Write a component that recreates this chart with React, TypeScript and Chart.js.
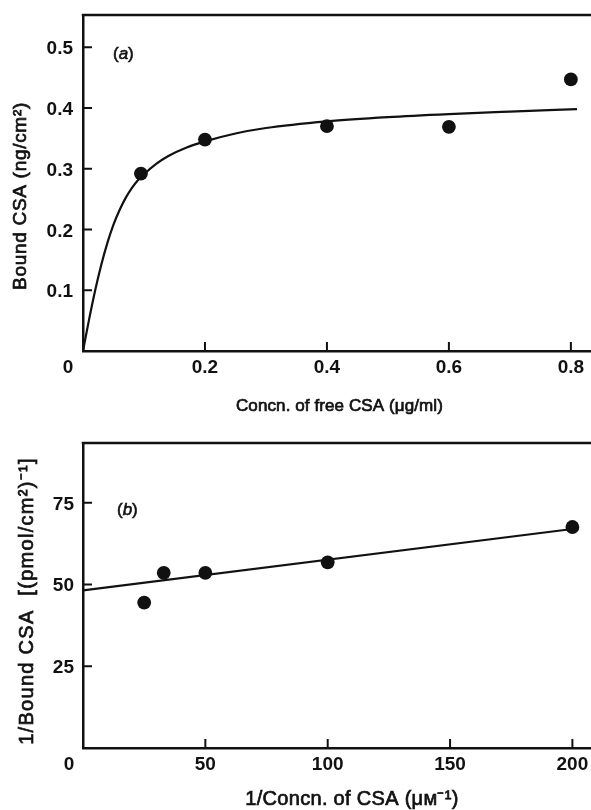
import React, { useEffect, useRef } from "react";
import { Chart, registerables } from "chart.js";

Chart.register(...registerables);

const FONT = '"Liberation Sans", Arial, Helvetica, sans-serif';
const INK = "#111";
const TICK_SIZE = 19;

// ---------- Panel (a): binding isotherm ----------
const freeConc = [0.095, 0.2, 0.4, 0.6, 0.8];
const boundCSA = [0.292, 0.348, 0.37, 0.369, 0.447];
const curveConc = [0, 0.01, 0.02, 0.03, 0.04, 0.05, 0.06, 0.07, 0.08, 0.09, 0.1, 0.12, 0.14, 0.17, 0.2, 0.25, 0.3, 0.4, 0.5, 0.6, 0.7, 0.81];
const curveBound = [0, 0.052, 0.1, 0.142, 0.178, 0.208, 0.232, 0.252, 0.268, 0.281, 0.291, 0.308, 0.321, 0.335, 0.345, 0.358, 0.367, 0.378, 0.385, 0.39, 0.394, 0.398];
const aXTicks = [0.2, 0.4, 0.6, 0.8];
const aYTicks = [0.1, 0.2, 0.3, 0.4, 0.5];

// ---------- Panel (b): double-reciprocal plot ----------
const invConc = [25, 33, 50, 100, 200];
const invBound = [44.5, 53.6, 53.6, 56.8, 67.6];
const lineInvConc = [0, 200];
const lineInvBound = [48.2, 67.0];
const bXTicks = [50, 100, 150, 200];
const bYTicks = [25, 50, 75];

const zip = (xs: number[], ys: number[]) => xs.map((x, i) => ({ x, y: ys[i] }));

function drawTitle(ctx: any, t: any) {
  ctx.save();
  ctx.translate(t.x, t.y);
  if (t.vertical) ctx.rotate(-Math.PI / 2);
  ctx.font = `${t.size}px ${FONT}`;
  ctx.letterSpacing = `${t.spacing || 0}px`;
  ctx.textAlign = "center";
  ctx.textBaseline = "alphabetic";
  ctx.fillStyle = INK;
  ctx.strokeStyle = INK;
  ctx.lineWidth = 0.7;
  ctx.fillText(t.text, 0, 0);
  ctx.strokeText(t.text, 0, 0);
  ctx.restore();
}

const paperFrame = {
  id: "paperFrame",
  afterDraw(chart: any, _args: any, opts: any) {
    const { ctx, chartArea: a } = chart;
    const xs = chart.scales.x;
    const ys = chart.scales.y;
    ctx.save();
    ctx.strokeStyle = INK;
    ctx.lineWidth = 2.5;
    ctx.beginPath();
    ctx.moveTo(a.left - 1.25, a.top);
    ctx.lineTo(a.right + 2, a.top);
    ctx.stroke();
    ctx.lineWidth = 2;
    ctx.beginPath();
    xs.ticks.forEach((t: any) => {
      const px = xs.getPixelForValue(t.value);
      ctx.moveTo(px, a.bottom);
      ctx.lineTo(px, a.bottom - opts.tickLen);
    });
    ys.ticks.forEach((t: any) => {
      const py = ys.getPixelForValue(t.value);
      ctx.moveTo(a.left, py);
      ctx.lineTo(a.left + opts.tickLen, py);
    });
    ctx.stroke();
    ctx.fillStyle = INK;
    ctx.font = `bold ${opts.tickSize}px ${FONT}`;
    ctx.textAlign = "center";
    ctx.textBaseline = "middle";
    ctx.fillText("0", xs.getPixelForValue(0) + opts.zeroDx, a.bottom + opts.zeroDy);

    // panel letter, e.g. "(a)" with the letter in italics
    const lx = a.left + opts.labelDx;
    const ly = a.top + opts.labelDy;
    ctx.textAlign = "left";
    ctx.textBaseline = "alphabetic";
    ctx.strokeStyle = INK;
    ctx.lineWidth = 0.6;
    const part = (s: string, font: string, x: number) => {
      ctx.font = font;
      ctx.fillText(s, x, ly);
      ctx.strokeText(s, x, ly);
      return ctx.measureText(s).width;
    };
    let w = part("(", `${opts.labelSize}px ${FONT}`, lx);
    w += part(opts.letter, `italic ${opts.labelSize}px ${FONT}`, lx + w);
    part(")", `${opts.labelSize}px ${FONT}`, lx + w);
    ctx.restore();

    drawTitle(ctx, opts.xTitle);
    drawTitle(ctx, opts.yTitle);
  },
};

function buildConfig(p: any): any {
  const zeroPad = (s: any) => {
    s.paddingLeft = 0;
    s.paddingRight = 0;
    s.paddingTop = 0;
    s.paddingBottom = 0;
  };
  return {
    type: "scatter",
    data: {
      datasets: [
        {
          data: p.line,
          showLine: true,
          borderColor: INK,
          borderWidth: 2.2,
          pointRadius: 0,
          cubicInterpolationMode: p.monotone ? "monotone" : "default",
          tension: 0,
        },
        {
          data: p.points,
          pointRadius: 6.9,
          pointBackgroundColor: INK,
          pointBorderWidth: 0,
          showLine: false,
        },
      ],
    },
    plugins: [paperFrame],
    options: {
      animation: false,
      responsive: false,
      devicePixelRatio: 1,
      layout: { autoPadding: false, padding: { top: p.padTop, left: 0, right: 0, bottom: 0 } },
      plugins: {
        legend: { display: false },
        tooltip: { enabled: false },
        paperFrame: {
          tickLen: 9,
          tickSize: TICK_SIZE,
          zeroDx: p.zeroDx,
          zeroDy: p.zeroDy,
          labelDx: p.labelDx,
          labelDy: p.labelDy,
          labelSize: 17,
          letter: p.letter,
          xTitle: p.xTitle,
          yTitle: p.yTitle,
        },
      },
      scales: {
        x: {
          type: "linear",
          min: p.xMin,
          max: p.xMax,
          afterBuildTicks: (s: any) => {
            s.ticks = p.xTicks.map((v: number) => ({ value: v }));
          },
          afterFit: (s: any) => {
            s.height = p.xAxisHeight;
            zeroPad(s);
          },
          grid: { display: false, drawTicks: false },
          border: { display: true, color: INK, width: 2.5 },
          ticks: {
            color: INK,
            padding: p.xTickPad,
            maxRotation: 0,
            font: { family: FONT, size: TICK_SIZE, weight: "bold" },
            callback: (v: number) => String(v),
          },
          title: { display: false },
        },
        y: {
          type: "linear",
          min: p.yMin,
          max: p.yMax,
          afterBuildTicks: (s: any) => {
            s.ticks = p.yTicks.map((v: number) => ({ value: v }));
          },
          afterFit: (s: any) => {
            s.width = 83;
            zeroPad(s);
          },
          grid: { display: false, drawTicks: false },
          border: { display: true, color: INK, width: 2.5 },
          ticks: {
            color: INK,
            padding: p.yTickPad,
            labelOffset: p.yLabelOffset,
            font: { family: FONT, size: TICK_SIZE, weight: "bold" },
            callback: (v: number) => String(v),
          },
          title: { display: false },
        },
      },
    },
  };
}

const panelA = {
  points: zip(freeConc, boundCSA),
  line: zip(curveConc, curveBound),
  monotone: true,
  xMin: 0,
  xMax: 0.833,
  yMin: 0,
  yMax: 0.553,
  xTicks: aXTicks,
  yTicks: aYTicks,
  padTop: 15,
  xAxisHeight: 79,
  xTickPad: 5.5,
  yTickPad: 10,
  yLabelOffset: 2,
  xTitle: { text: "Concn. of free CSA (\u03bcg/ml)", x: 339.5, y: 411, size: 17, spacing: 0.1 },
  yTitle: { text: "Bound CSA (ng/cm\u00b2)", x: 26, y: 196, size: 19, spacing: 0.7, vertical: true },
  zeroDx: -15,
  zeroDy: 17,
  labelDx: 30,
  labelDy: 44,
  letter: "a",
};

const panelB = {
  points: zip(invConc, invBound),
  line: zip(lineInvConc, lineInvBound),
  monotone: false,
  xMin: 0,
  xMax: 207.6,
  yMin: 0,
  yMax: 93.3,
  xTicks: bXTicks,
  yTicks: bYTicks,
  padTop: 13,
  xAxisHeight: 62,
  xTickPad: 5.5,
  yTickPad: 9,
  yLabelOffset: 1.5,
  xTitle: { text: "1/Concn. of CSA (\u03bc\u1d0d\u207b\u00b9)", x: 352, y: 374.5, size: 20, spacing: 0.3 },
  yTitle: { text: "1/Bound CSA  [(pmol/cm\u00b2)\u207b\u00b9]", x: 33.3, y: 171, size: 20, spacing: 1.3, vertical: true },
  zeroDx: -14,
  zeroDy: 16.5,
  labelDx: 34,
  labelDy: 72,
  letter: "b",
};

function Panel({ cfg, top, height }: { cfg: any; top: number; height: number }) {
  const ref = useRef<HTMLCanvasElement>(null);
  useEffect(() => {
    const chart = new Chart(ref.current as HTMLCanvasElement, buildConfig(cfg));
    return () => chart.destroy();
  }, [cfg]);
  return (
    <canvas
      ref={ref}
      width={591}
      height={height}
      style={{ position: "absolute", left: 0, top, width: 591, height }}
    />
  );
}

export default function App() {
  return (
    <div
      style={{
        position: "absolute",
        left: 0,
        top: 0,
        width: 591,
        height: 810,
        overflow: "hidden",
        background: "#fff",
      }}
    >
      <Panel cfg={panelA} top={0} height={430} />
      <Panel cfg={panelB} top={430} height={380} />
    </div>
  );
}
